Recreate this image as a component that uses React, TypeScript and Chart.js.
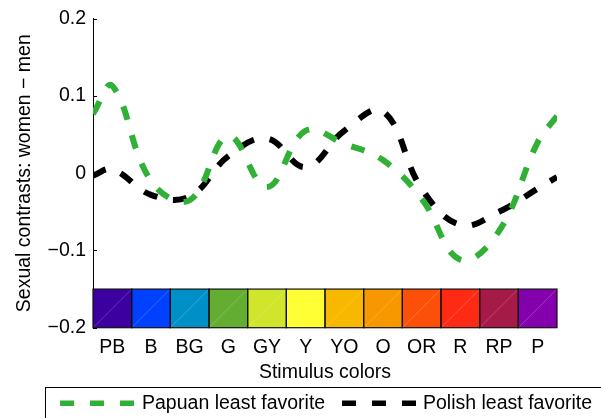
import React, { useEffect, useRef } from "react";
import { Chart, registerables } from "chart.js";

Chart.register(...registerables);

const categories = ["PB", "B", "BG", "G", "GY", "Y", "YO", "O", "OR", "R", "RP", "P"];
const stripColors = [
  "#3d00a0", "#0040ff", "#0090c8", "#63ad30", "#d0e62c", "#ffff33",
  "#f8b800", "#f89800", "#fc5008", "#ff2a14", "#a61a48", "#8400ac",
];
// values at category centres
const papuanValues = [0.113, -0.01, -0.035, 0.048, -0.018, 0.055, 0.038, 0.017, -0.033, -0.112, -0.075, 0.04];
const polishValues = [0.005, -0.028, -0.03, 0.022, 0.045, 0.008, 0.055, 0.08, -0.02, -0.067, -0.05, -0.02];
// values read at the left and right edges of the colour axis
const papuanEdges = [0.077, 0.074];
const polishEdges = [-0.003, -0.005];
const yTicks = [-0.2, -0.1, 0, 0.1, 0.2];
const seriesNames = ["Papuan least favorite", "Polish least favorite"];
const seriesColors = ["#31b036", "#000000"];

const FONT = "'Liberation Sans', Arial, Helvetica, sans-serif";
const FS = 19.5;

function toPoints(values: number[], edges: number[]) {
  const pts = [{ x: 0.5, y: edges[0] }];
  values.forEach((v, i) => pts.push({ x: i + 1, y: v }));
  pts.push({ x: 12.5, y: edges[1] });
  return pts;
}

const fmt = (v: number) => {
  const r = Math.round(v * 10) / 10;
  if (r === 0) return "0";
  return (r < 0 ? "\u2212" : "") + Math.abs(r).toFixed(1);
};

const decorPlugin = {
  id: "decor",
  beforeDatasetsDraw(chart: any) {
    const { ctx, scales } = chart;
    const xs = scales.x;
    const ys = scales.y;
    const y0 = ys.getPixelForValue(-0.15);
    const y1 = ys.getPixelForValue(-0.2);
    ctx.save();
    stripColors.forEach((c, i) => {
      const x0 = xs.getPixelForValue(i + 0.5);
      const x1 = xs.getPixelForValue(i + 1.5);
      ctx.fillStyle = c;
      ctx.fillRect(x0, y0, x1 - x0, y1 - y0);
      ctx.strokeStyle = "rgba(255,255,255,0.35)";
      ctx.lineWidth = 0.6;
      ctx.beginPath();
      ctx.moveTo(x0 + 1, y1 - 1);
      ctx.lineTo(x1 - 1, y0 + 1);
      ctx.stroke();
    });
    ctx.strokeStyle = "#111";
    ctx.lineWidth = 1.2;
    stripColors.forEach((_c, i) => {
      const x0 = xs.getPixelForValue(i + 0.5);
      const x1 = xs.getPixelForValue(i + 1.5);
      ctx.strokeRect(x0, y0, x1 - x0, y1 - y0);
    });
    // inward y ticks
    ctx.strokeStyle = "#000";
    ctx.lineWidth = 1;
    const ax = xs.left;
    yTicks.forEach((t) => {
      const y = Math.round(ys.getPixelForValue(t)) + 0.5;
      ctx.beginPath();
      ctx.moveTo(ax, y);
      ctx.lineTo(ax + 4, y);
      ctx.stroke();
    });
    ctx.restore();
  },
  afterDraw(chart: any) {
    const { ctx } = chart;
    ctx.save();
    ctx.strokeStyle = "#000";
    ctx.lineWidth = 1;
    ctx.fillStyle = "#fff";
    ctx.fillRect(45.5, 387.5, 700, 100);
    ctx.strokeRect(45.5, 387.5, 700, 100);
    const dashStarts = [60, 342];
    const textStarts = [142, 423];
    seriesNames.forEach((name, s) => {
      ctx.fillStyle = seriesColors[s];
      for (let k = 0; k < 3; k++) {
        ctx.fillRect(dashStarts[s] + k * 30, 400.5, 14, 5.5);
      }
      ctx.fillStyle = "#000";
      ctx.font = `${FS}px ${FONT}`;
      ctx.textBaseline = "middle";
      ctx.textAlign = "left";
      ctx.fillText(name, textStarts[s], 404);
    });
    ctx.restore();
  },
};

export default function App() {
  const ref = useRef<HTMLCanvasElement | null>(null);
  useEffect(() => {
    if (!ref.current) return;
    const chart = new Chart(ref.current, {
      type: "line",
      data: {
        datasets: [
          {
            label: seriesNames[0],
            data: toPoints(papuanValues, papuanEdges),
            borderColor: seriesColors[0],
            borderWidth: 6,
            borderDash: [14, 16],
            borderCapStyle: "butt",
            pointRadius: 0,
            tension: 0.4,
            fill: false,
          },
          {
            label: seriesNames[1],
            data: toPoints(polishValues, polishEdges),
            borderColor: seriesColors[1],
            borderWidth: 6,
            borderDash: [14, 16],
            borderCapStyle: "butt",
            pointRadius: 0,
            tension: 0.4,
            fill: false,
          },
        ],
      },
      options: {
        responsive: false,
        animation: false,
        devicePixelRatio: 1,
        layout: { padding: { top: 16, left: 0, right: 44, bottom: 0 } },
        plugins: { legend: { display: false }, tooltip: { enabled: false } },
        scales: {
          x: {
            type: "linear",
            min: 0.5,
            max: 12.5,
            afterBuildTicks: (scale: any) => {
              scale.ticks = categories.map((_c, i) => ({ value: i + 1 }));
            },
            afterFit: (scale: any) => {
              scale.height = 90.3;
            },
            grid: { display: false, drawTicks: false },
            border: { display: false },
            ticks: {
              autoSkip: false,
              maxRotation: 0,
              padding: 8,
              color: "#000",
              font: { family: FONT, size: FS },
              callback: (v: any) => categories[Math.round(Number(v)) - 1] ?? "",
            },
            title: {
              display: true,
              text: "Stimulus colors",
              color: "#000",
              font: { family: FONT, size: FS },
              padding: { top: 0, bottom: 34 },
            },
          },
          y: {
            min: -0.2,
            max: 0.2,
            afterBuildTicks: (scale: any) => {
              scale.ticks = yTicks.map((v) => ({ value: v }));
            },
            afterFit: (scale: any) => {
              scale.width = 93;
            },
            grid: { display: false, drawTicks: false },
            border: { display: true, color: "#000", width: 1 },
            ticks: {
              padding: 7,
              color: "#000",
              font: { family: FONT, size: FS },
              callback: (v: any) => fmt(Number(v)),
            },
            title: {
              display: true,
              text: "Sexual contrasts: women \u2212 men",
              color: "#000",
              font: { family: FONT, size: FS },
              padding: { top: 13, bottom: 0 },
            },
          },
        },
      },
      plugins: [decorPlugin],
    });
    return () => chart.destroy();
  }, []);
  return (
    <div style={{ position: "fixed", left: 0, top: 0, width: 601, height: 418, background: "#fff" }}>
      <canvas ref={ref} width={601} height={418} style={{ display: "block" }} />
    </div>
  );
}
